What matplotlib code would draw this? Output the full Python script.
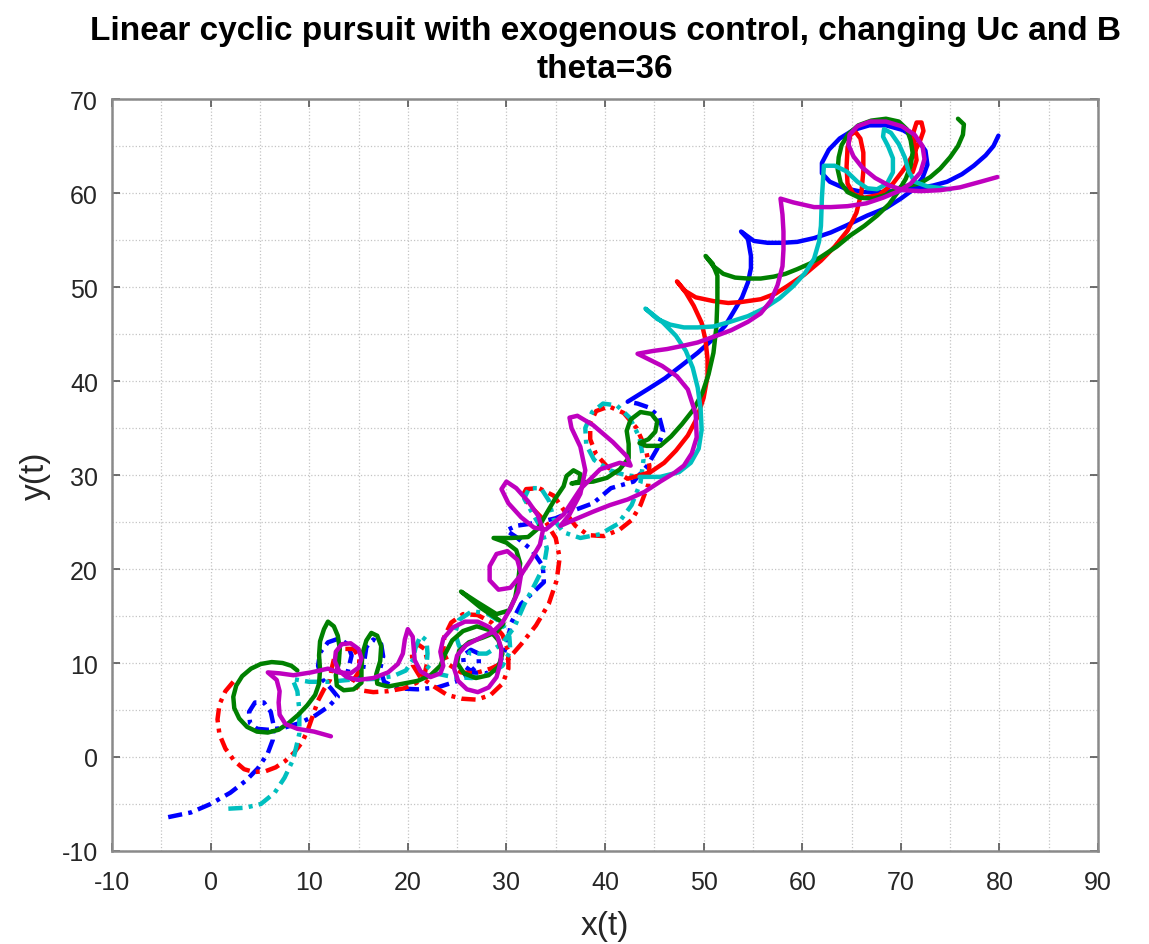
import matplotlib
matplotlib.use('Agg')
import matplotlib.pyplot as plt
import numpy as np

# traced trajectories, (x, y) pairs
blue_dash = [(-4.3, -6.4), (-2, -5.9), (0, -5.0), (2, -3.8), (3.6, -2.5), (4.8, -1.2), (5.8, 0.4),
             (6.3, 1.8), (6.4, 3.3), (6.1, 4.8), (5.4, 5.8), (4.5, 5.8), (3.9, 4.8), (4.0, 3.6),
             (4.7, 3.0), (5.8, 2.9), (7.4, 3.1), (9.0, 3.6), (10.6, 4.4), (12.0, 5.4), (12.9, 6.4),
             (12.2, 7.3), (11.3, 8.3), (10.9, 9.7), (11.1, 11.1), (11.9, 12.2), (13.0, 12.6), (13.9, 12.0),
             (14.3, 10.8), (14.0, 9.5), (13.8, 8.6), (14.5, 8.2), (15.4, 8.9), (15.6, 10.3), (15.8, 11.7),
             (16.5, 12.5), (17.3, 12.0), (17.5, 10.7), (17.2, 9.4), (17.6, 8.0), (19, 7.3), (21, 7.2),
             (23, 7.4), (24.8, 8.0), (26.2, 8.9), (27.2, 9.9), (27.2, 11.0), (26.4, 11.4), (25.6, 10.8),
             (25.7, 9.7), (26.6, 9.0), (28, 8.9), (29.3, 9.9), (30, 11.8), (30.5, 14.3), (31.5, 16.3),
             (32.8, 17.6), (33.8, 18.6), (33.7, 20.3), (32.6, 22.0), (31.0, 23.4), (30.0, 24.1), (31.0, 24.6),
             (33.0, 24.9), (35.0, 25.4), (37, 26.3), (38.8, 27.0), (40.6, 28.6), (42.9, 29.3), (44.3, 31),
             (45.3, 32.8), (45.9, 34.6), (45.5, 36.2), (44.4, 37.2), (43.3, 37.6), (42.3, 37.8)]
blue_solid = [(42.3, 37.8), (44.3, 39.1), (46.1, 40.3), (47.7, 41.6), (49.4, 43.0), (51, 44.5), (52.2, 45.9),
              (53, 47.3), (53.9, 48.9), (54.5, 50.5), (54.8, 52.0), (54.8, 53.3), (54.5, 55.1), (53.8, 55.9),
              (55.1, 54.9), (56.5, 54.7), (58.0, 54.7), (59.5, 54.8), (61.2, 55.2), (62.9, 55.8), (64.6, 56.6),
              (66.6, 57.6), (68.5, 58.4), (70.0, 59.4), (71.3, 60.4), (72.2, 61.6), (72.7, 63.0), (72.5, 64.5),
              (71.6, 65.8), (70.2, 66.7), (68.5, 67.2), (66.8, 67.2), (65.2, 66.7), (63.8, 65.8), (62.7, 64.6),
              (62.0, 63.2), (62.0, 62.1), (62.8, 61.2), (64.3, 60.5), (66.2, 60.1), (68.2, 60.1), (70.0, 60.3),
              (71.8, 60.5), (73.3, 60.8), (74.7, 61.2), (76.2, 62.0), (77.4, 62.9), (78.6, 64.0), (79.4, 65.0),
              (79.9, 66.1)]

red_dash = [(2.3, 8.0), (1.5, 7.0), (0.9, 5.6), (0.7, 4.0), (0.9, 2.4), (1.5, 0.9), (2.4, -0.4), (3.4, -1.3),
            (4.4, -1.6), (5.6, -1.5), (6.6, -1.1), (7.6, -0.4), (8.5, 0.5), (9.3, 1.6), (9.9, 3.0), (10.4, 4.5),
            (10.9, 6.0), (11.5, 7.2), (12.1, 8.2), (12.3, 9.5), (12.6, 10.8), (13.5, 11.5), (14.5, 11.5),
            (15.1, 10.5), (15.0, 9.0), (14.3, 7.9), (15.2, 7.1), (16.5, 6.9), (18, 7.0), (19.6, 7.3), (20.9, 7.9),
            (21.7, 8.8), (22.0, 10.2), (21.7, 11.5), (21.0, 12.0), (20.4, 11.2), (20.5, 9.8), (21.2, 8.6),
            (22.5, 7.6), (24, 6.6), (25.5, 6.2), (27, 6.1), (28.4, 6.6), (29.6, 7.8), (30.2, 9.4), (30.2, 11.2),
            (29.6, 13.0), (28.5, 14.3), (27.1, 15.1), (25.6, 15.2), (24.4, 14.3), (23.7, 12.8), (23.6, 11.2),
            (24.2, 9.8), (25.4, 9.0), (26.8, 8.9), (28.4, 9.4), (30, 10.2), (31.5, 12), (33, 14), (34.3, 16.3),
            (35.1, 18.8), (35.4, 21.2), (35.0, 23.3), (34.0, 25.0), (32.7, 26.4), (31.6, 27.7), (32.0, 28.5),
            (33.3, 28.6), (34.8, 27.8), (35.8, 26.3), (37.0, 24.6), (38.3, 23.6), (39.9, 23.5), (41.5, 24.2),
            (42.7, 25.2), (43.6, 26.8), (44.4, 29.0), (44.5, 31.0), (44.1, 32.9), (43.2, 35.0), (41.9, 36.6),
            (40.4, 37.3), (39.1, 36.8), (38.5, 35.5), (38.5, 33.8), (39.1, 32.2), (40.3, 30.8), (42.3, 29.6)]
red_solid = [(42.3, 29.6), (44.6, 30.3), (46.0, 31.3), (47.2, 32.6), (48.4, 34.2), (49.3, 36.0), (50.0, 38.2),
             (50.4, 40.5), (50.4, 42.3), (50.2, 44.3), (49.8, 46.2), (49.0, 48.0), (48.2, 49.4), (47.3, 50.6),
             (48.1, 49.6), (49.2, 48.9), (51, 48.5), (52.5, 48.3), (53.8, 48.4), (55.8, 48.7), (57.3, 49.3),
             (58.5, 50.1), (60.2, 51.3), (61.9, 52.8), (63.3, 54.3), (64.6, 56.0), (65.5, 57.9), (66.0, 60.0),
             (66.2, 62.3), (66.2, 64.3), (65.9, 65.8), (65.4, 66.5), (64.9, 66.2), (64.6, 64.8), (64.5, 62.8),
             (64.6, 61.0), (65.2, 59.9), (66.3, 59.5), (67.8, 59.8), (69.2, 61.0), (70.3, 62.5), (71.2, 64.0),
             (71.9, 65.4), (72.3, 66.6), (72.1, 67.5), (71.6, 67.5), (71.3, 66.5), (71.4, 65.0), (71.6, 63.5),
             (71.2, 62.2)]

green_solid = [(8.8, 9.2), (8.2, 9.7), (7.3, 10.0), (6.2, 10.1), (5.1, 9.9), (4.1, 9.4), (3.2, 8.6), (2.6, 7.6),
               (2.3, 6.4), (2.4, 5.2), (2.9, 4.1), (3.7, 3.2), (4.7, 2.7), (5.8, 2.6), (6.9, 2.9), (7.9, 3.6),
               (8.9, 4.5), (9.8, 5.5), (10.6, 6.6), (11.0, 7.8), (11.1, 9.3), (11.0, 10.8), (11.1, 12.3),
               (11.5, 13.6), (11.9, 14.4), (12.5, 13.9), (12.9, 12.9), (13.1, 11.5), (13.0, 10.0), (12.7, 8.7),
               (12.8, 7.6), (13.5, 7.1), (14.5, 7.2), (15.3, 7.9), (15.3, 9.5), (15.4, 11.0), (15.8, 12.4),
               (16.3, 13.2), (16.9, 12.9), (17.3, 11.8), (17.2, 10.2), (16.8, 8.8), (16.9, 7.8), (18, 7.5),
               (19.5, 7.8), (21, 8.1), (22.3, 8.7), (23.3, 9.7), (23.8, 11.0), (24.5, 12.4), (25.6, 13.4),
               (27.0, 13.9), (28.3, 13.5), (29.2, 12.4), (29.6, 11.0), (29.2, 9.6), (28.2, 8.7), (26.9, 8.4),
               (25.7, 8.9), (25.0, 10.0), (25.2, 11.3), (26.2, 12.2), (27.6, 12.7), (29.0, 13.3), (29.7, 14.2),
               (29.2, 14.6), (27.5, 15.8), (25.4, 17.6), (27, 16.5), (29, 15.2), (30.3, 15.6), (30.9, 17.0),
               (31.2, 18.8), (31.4, 20.6), (31.0, 22.0), (30.0, 22.8), (28.7, 23.3), (30.5, 23.3), (32.2, 23.4),
               (33.2, 24.3), (34.0, 25.8), (34.9, 27.4), (35.8, 28.8), (36.1, 29.9), (36.8, 30.5), (37.5, 30.1),
               (37.4, 29.3), (36.6, 29.1), (37.6, 29.2), (38.8, 29.3), (40.2, 29.7), (41.5, 30.6), (42.4, 31.8),
               (42.4, 33.3), (42.2, 34.7), (42.6, 35.9), (43.6, 36.7), (44.7, 36.5), (45.3, 35.7), (45.1, 34.6),
               (44.4, 33.8), (43.5, 33.4), (44.2, 33.1), (45.6, 33.1), (46.7, 34.1), (47.8, 35.4), (49, 37),
               (49.9, 38.8), (50.5, 40.7), (51.0, 43.0), (51.3, 45.8), (51.4, 48.7), (51.4, 51.2), (50.9, 52.5),
               (50.2, 53.3), (51.0, 52.2), (52, 51.4), (53.2, 51.0), (54.5, 50.9), (55.8, 50.9), (57.1, 51.1),
               (58.3, 51.4), (59.5, 51.9), (60.8, 52.5), (61.9, 53.2), (63.5, 54.3), (64.9, 55.5), (66.3, 56.5),
               (67.6, 57.6), (68.8, 58.8), (69.7, 60.1), (70.5, 61.5), (71.0, 62.9), (71.2, 64.3), (71.0, 65.6),
               (70.6, 66.8), (69.8, 67.6), (68.5, 67.9), (67.0, 67.7), (65.7, 67.2), (64.7, 66.3), (64.0, 65.1),
               (63.7, 63.8), (63.6, 62.5), (63.9, 61.1), (64.6, 60.1), (65.8, 59.5), (67.2, 59.4), (68.5, 59.8),
               (69.7, 60.5), (70.8, 60.8), (71.9, 61.0), (73.0, 61.7), (74.0, 62.6), (75.0, 63.8), (75.8, 65.0),
               (76.3, 66.2), (76.4, 67.3), (75.8, 67.9)]

cyan_dash = [(1.8, -5.5), (3.5, -5.4), (5.1, -5.0), (6.5, -3.8), (7.5, -2.2), (8.4, -0.2), (9.0, 2.5),
             (9.0, 5.0), (8.8, 7.0), (8.3, 8.3), (10, 8), (12, 8), (14, 8.2), (16.5, 8.3), (18.5, 8.6),
             (19.8, 9.2), (20.5, 10.3), (20.8, 11.7), (21.3, 12.9), (21.9, 12.4), (22.0, 11.0), (21.9, 9.7),
             (22.8, 8.9), (24.6, 8.5), (26.5, 8.4), (28.3, 8.8), (29.6, 9.7), (30.4, 11.3), (30.3, 12.8),
             (29.5, 14.3), (28.0, 15.3), (26.5, 15.5), (25.2, 14.6), (24.8, 13.2), (25.2, 11.8), (26.4, 11.0),
             (28.0, 11.0), (29.5, 12), (30.8, 13.8), (31.8, 16.2), (32.9, 18.4), (33.8, 20.3), (34.1, 22.2),
             (33.6, 24.2), (32.6, 26.0), (31.8, 27.5), (32.3, 28.6), (33.5, 28.6), (34.3, 27.3), (34.8, 25.3),
             (35.8, 23.9), (37.5, 23.3), (39.5, 23.7), (41.3, 24.8), (42.7, 26.8), (43.6, 29.2), (43.9, 31.6),
             (43.5, 34.0), (42.5, 36.1), (41.2, 37.4), (39.8, 37.6), (38.7, 36.7), (38.0, 35.0), (38.1, 33.2),
             (38.9, 31.6), (40.5, 30.5), (42.0, 30.0), (43.5, 29.8)]
cyan_solid = [(43.5, 29.8), (45.6, 29.8), (47.5, 30.3), (48.7, 31.3), (49.5, 32.8), (49.8, 34.8), (49.7, 37),
              (49.4, 39.3), (48.9, 41.4), (48.2, 43.2), (47.2, 44.8), (45.9, 46.2), (44.1, 47.7), (45.3, 46.6),
              (46.6, 46.0), (48.0, 45.7), (49.4, 45.7), (51.0, 45.8), (52.7, 46.3), (54.5, 46.9), (56.1, 47.7),
              (57.7, 48.8), (59.1, 50.1), (60.3, 51.5), (61.2, 53), (61.7, 54.8), (61.9, 56.5), (62.0, 59.5),
              (62.2, 62.9), (63.3, 62.9), (64.5, 62.3), (65.6, 61.2), (66.6, 60.5), (67.6, 60.4), (68.6, 61.0),
              (69.2, 62.2), (69.2, 63.7), (68.7, 65.0), (68.2, 66.0), (68.3, 66.8), (69.0, 66.4), (69.8, 65.2),
              (70.4, 63.8), (70.8, 62.3), (71.4, 61.2), (72.7, 60.7), (75, 60.4)]

magenta_solid = [(12.2, 2.2), (10.5, 2.7), (8.8, 3.0), (7.6, 3.5), (7.0, 4.5), (6.9, 5.8), (7.0, 7.0),
                 (6.7, 8.2), (5.8, 9.0), (7.0, 8.9), (8.4, 8.7), (10.2, 9.0), (11.9, 9.4), (13.0, 9.0),
                 (14.2, 8.9), (15.0, 9.5), (15.3, 10.5), (15.0, 11.5), (14.2, 12.1), (13.3, 12.0), (12.7, 11.2),
                 (12.6, 10.2), (13.0, 9.2), (13.8, 8.5), (15.0, 8.2), (16.5, 8.4), (18.0, 9.0), (19.0, 9.9),
                 (19.5, 11.0), (19.7, 12.5), (20.0, 13.6), (20.5, 12.8), (20.6, 11.5), (20.7, 10.3), (21.3, 9.1),
                 (22.3, 8.5), (23.3, 8.9), (23.6, 9.7), (23.3, 11.2), (23.6, 12.6), (24.6, 13.8), (25.8, 14.4),
                 (27.1, 14.4), (28.3, 13.8), (29.1, 12.8), (29.5, 11.5), (29.4, 10.0), (29.0, 8.5), (28.2, 7.4),
                 (27.1, 6.9), (26.0, 7.2), (25.1, 8.1), (24.7, 9.4), (25.0, 10.8), (25.9, 11.9), (27.2, 12.6),
                 (28.6, 13.3), (29.6, 14.3), (30.4, 15.8), (31.2, 17.6), (31.5, 19.5), (31.1, 21.0), (30.1, 21.9),
                 (29.0, 21.6), (28.3, 20.3), (28.3, 18.8), (29.2, 17.8), (30.4, 18.0), (31.5, 19.4), (32.5, 21.0),
                 (33.4, 22.6), (33.7, 24.1), (33.2, 25.7), (32.2, 27.2), (31.0, 28.6), (30.0, 29.3), (29.5, 28.5),
                 (30.2, 27.0), (31.5, 25.5), (32.8, 24.4), (34.0, 24.2), (35.8, 25.8), (37.5, 28.5), (39.5, 30.6),
                 (41.5, 31.3), (42.6, 31.0), (42.2, 32.0), (40.8, 33.5), (38.8, 35.3), (37.2, 36.3), (36.4, 36.1),
                 (36.6, 35.0), (37.5, 33.0), (38.0, 30.5), (37.5, 28.0), (36.4, 25.8), (35.5, 24.6), (37.0, 25.3),
                 (38.8, 26.1), (40.5, 26.8), (42.3, 27.4), (44.0, 28.2), (45.6, 29.3), (47.0, 30.2), (48.0, 31.0),
                 (48.8, 32.3), (49.3, 34.0), (49.2, 36.5), (48.4, 39.1), (47.3, 40.5), (45.8, 41.6), (43.3, 42.9),
                 (44.9, 43.2), (46.3, 43.4), (47.7, 43.7), (49.4, 44.1), (51, 44.7), (52.8, 45.4), (54.5, 46.3),
                 (55.8, 47.2), (56.8, 48.5), (57.5, 50.2), (58.0, 52.2), (58.1, 54.0), (58.1, 55.9), (58.0, 57.7),
                 (57.8, 59.4), (59.1, 59.0), (61.2, 58.5), (62.9, 58.5), (64.6, 58.6), (66.5, 58.9), (68.2, 59.5),
                 (69.8, 60.2), (71.0, 61.0), (72.0, 62.2), (72.4, 63.6), (72.2, 65.0), (71.4, 66.2), (70.1, 67.1),
                 (68.5, 67.6), (66.9, 67.6), (65.6, 67.1), (64.8, 66.2), (64.7, 65.1), (65.2, 63.9), (66.1, 62.7),
                 (67.4, 61.6), (68.8, 60.8), (70.3, 60.3), (72.0, 60.2), (74.0, 60.3), (76.0, 60.6), (78.1, 61.2),
                 (79.8, 61.7)]

x_ticks = list(range(-10, 91, 10))
y_ticks = list(range(-10, 71, 10))

C_BLUE = (0, 0, 1)
C_RED = (1, 0, 0)
C_GREEN = (0, 0.5, 0)
C_CYAN = (0, 0.75, 0.75)
C_MAGENTA = (0.75, 0, 0.75)

plt.rcParams['font.family'] = ['Liberation Sans', 'DejaVu Sans']
plt.rcParams['axes.unicode_minus'] = False

fig = plt.figure(figsize=(11.49, 9.45), dpi=100)
ax = fig.add_axes([112 / 1149, 93 / 945, 986 / 1149, 752 / 945])

LW = 3.2
DASH = (0, (3.2, 1.4, 0.9, 1.4))


def draw(pts, color, dashed=False):
    arr = np.array(pts)
    ls = DASH if dashed else '-'
    ax.plot(arr[:, 0], arr[:, 1], color=color, lw=LW, ls=ls, solid_capstyle='round',
            solid_joinstyle='round', dash_capstyle='butt', dash_joinstyle='round')


for pts, col in [(blue_dash, C_BLUE), (red_dash, C_RED), (cyan_dash, C_CYAN)]:
    draw(pts, col, dashed=True)
for pts, col in [(blue_solid, C_BLUE), (red_solid, C_RED), (green_solid, C_GREEN),
                 (cyan_solid, C_CYAN), (magenta_solid, C_MAGENTA)]:
    draw(pts, col)

ax.set_xlim(-10, 90)
ax.set_ylim(-10, 70)
ax.set_xticks(x_ticks)
ax.set_yticks(y_ticks)
ax.set_xticks(np.arange(-10, 91, 5), minor=True)
ax.set_yticks(np.arange(-10, 71, 5), minor=True)
ax.grid(True, which='both', ls=':', lw=0.9, color='#c4c4c4')
ax.set_axisbelow(True)
ax.tick_params(which='major', direction='in', length=6, width=1.2, color='#555555',
               top=True, right=True, labelsize=18, labelcolor='#262626')
ax.tick_params(axis='x', which='major', pad=14)
ax.tick_params(axis='y', which='major', pad=10)
ax.tick_params(which='minor', length=0)
for sp in ax.spines.values():
    sp.set_color('#8a8a8a')
    sp.set_linewidth(1.8)

ax.set_xlabel('x(t)', fontsize=24, color='#262626', labelpad=11)
ax.set_ylabel('y(t)', fontsize=24, color='#262626', labelpad=8)
ax.set_title('Linear cyclic pursuit with exogenous control, changing Uc and B\ntheta=36',
             fontsize=24, fontweight='bold', linespacing=1.3, pad=16)

fig.savefig('out.png', dpi=100)
